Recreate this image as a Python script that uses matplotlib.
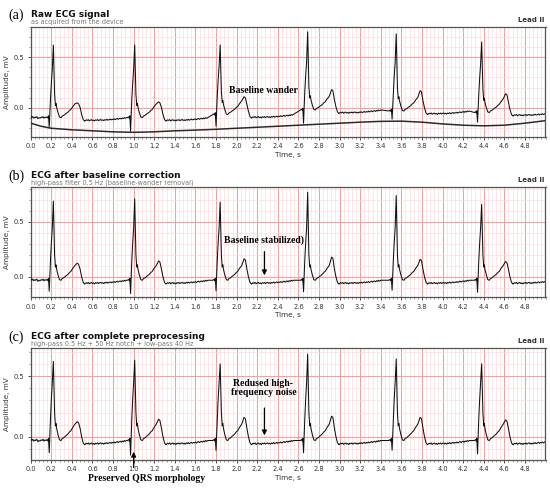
import numpy as np
import matplotlib.pyplot as plt
from matplotlib.ticker import MultipleLocator

#
# Beat timing (R peaks, s) - same for all three panels
r_times = [0.22, 1.01, 1.84, 2.69, 3.55, 4.38]
#
# Beat template: offsets from the R peak and values (mV)
# Q, R and T points get the per-beat values below
tmpl_dt = [-0.07, -0.06, -0.052, -0.047, -0.04, -0.028, -0.02, -0.01, 0.0, 0.012,
           0.02, 0.026, 0.032, 0.045, 0.06, 0.075, 0.085, 0.10, 0.12, 0.14,
           0.156, 0.17, 0.19, 0.21, 0.232, 0.245, 0.26, 0.275, 0.29, 0.305]
tmpl_v = [-0.03, -0.022, -0.035, -0.012, 0.0, 0.15, 0.30, 0.45, 0.0, 0.2,
          0.09, 0.11, 0.07, 0.02, -0.025, -0.03, -0.015, -0.008, 0.008, 0.022,
          0.04, 0.05, 0.08, 0.105, 0.0, 0.0, 0.07, 0.0, -0.05, -0.065]
IQ, IR, IT, IT2 = 4, 8, 24, 25
#
# Noisy baseline after the T wave (sampled every 10 ms from +0.31 s)
base_v = [-0.06, -0.052, -0.058, -0.05, -0.062, -0.055, -0.05, -0.06, -0.054, -0.063,
          -0.052, -0.057, -0.05, -0.06, -0.053, -0.049, -0.058, -0.052, -0.06, -0.05,
          -0.055, -0.047, -0.056, -0.05, -0.045, -0.053, -0.046, -0.05, -0.042, -0.05,
          -0.044, -0.038, -0.047, -0.04, -0.036, -0.044, -0.034, -0.04, -0.03, -0.037, -0.03]
base_dt = np.round(0.31 + 0.01 * np.arange(len(base_v)), 3)
#
# Lead-in before the first beat
lead_t = [0.0, 0.01, 0.02, 0.03, 0.04, 0.05, 0.06, 0.07, 0.08, 0.09, 0.10, 0.11, 0.12, 0.13, 0.14]
lead_v = [-0.01, -0.03, -0.02, -0.035, -0.025, -0.03, -0.02, -0.04, -0.03, -0.035,
          -0.025, -0.03, -0.02, -0.035, -0.025]
#
# Per-beat values, panel (a) raw
r_a = [0.62, 0.62, 0.62, 0.75, 0.73, 0.65]
t_a = [0.05, 0.06, 0.11, 0.18, 0.17, 0.14]
q_a = [-0.19, -0.23, -0.18, -0.15, -0.11, -0.14]
shift_a = [-0.065, -0.065, -0.035, 0.01, 0.0, -0.015]
#
# Panel (b) baseline corrected
r_b = [0.69, 0.71, 0.68, 0.77, 0.74, 0.66]
t_b = [0.125, 0.145, 0.165, 0.18, 0.16, 0.14]
q_b = [-0.13, -0.15, -0.125, -0.135, -0.12, -0.14]
shift_b = [0.0, 0.0, 0.0, 0.0, 0.0, 0.0]
#
# Panel (c) full preprocessing
r_c = [0.62, 0.63, 0.60, 0.68, 0.64, 0.60]
t_c = [0.125, 0.145, 0.16, 0.17, 0.16, 0.14]
q_c = [-0.13, -0.15, -0.11, -0.13, -0.11, -0.14]
shift_c = [0.0, 0.0, 0.0, 0.0, 0.0, 0.0]
#
# Baseline wander curve shown in panel (a)
wander_t = [0.0, 0.1, 0.2, 0.4, 0.6, 0.8, 1.0, 1.2, 1.4, 1.6, 1.8, 2.0, 2.2, 2.4, 2.6,
            2.8, 3.0, 3.2, 3.4, 3.6, 3.8, 4.0, 4.2, 4.4, 4.6, 4.8, 5.0]
wander_v = [-0.15, -0.18, -0.2, -0.215, -0.225, -0.235, -0.24, -0.235, -0.225, -0.218,
            -0.21, -0.2, -0.19, -0.18, -0.17, -0.16, -0.15, -0.14, -0.132, -0.13,
            -0.14, -0.157, -0.17, -0.176, -0.17, -0.15, -0.125]

xtick_vals = [0.0, 0.2, 0.4, 0.6, 0.8, 1.0, 1.2, 1.4, 1.6, 1.8, 2.0, 2.2, 2.4, 2.6,
              2.8, 3.0, 3.2, 3.4, 3.6, 3.8, 4.0, 4.2, 4.4, 4.6, 4.8]


def build(r, t, q, shift):
    xs = list(lead_t)
    ys = [v + shift[0] for v in lead_v]
    for i, rt in enumerate(r_times):
        v = [x + shift[i] for x in tmpl_v]
        v[IQ] = q[i]
        v[IR] = r[i]
        v[IT] = t[i]
        v[IT2] = t[i] - 0.01
        xs += [rt + d for d in tmpl_dt] + [rt + d for d in base_dt]
        ys += v + [b + shift[i] for b in base_v]
    return np.array(xs), np.array(ys)


W, H = 550, 488
fig = plt.figure(figsize=(5.5, 4.88), dpi=100)

panels = [
    dict(top=26.7, bot=136.7, ylim=(-0.283, 0.80), data=(r_a, t_a, q_a, shift_a),
         tag='(a)', title='Raw ECG signal', sub='as acquired from the device'),
    dict(top=187.3, bot=297.3, ylim=(-0.185, 0.815), data=(r_b, t_b, q_b, shift_b),
         tag='(b)', title='ECG after baseline correction',
         sub='high-pass filter 0.5 Hz (baseline-wander removal)'),
    dict(top=348.3, bot=459.5, ylim=(-0.186, 0.728), data=(r_c, t_c, q_c, shift_c),
         tag='(c)', title='ECG after complete preprocessing',
         sub='high-pass 0.5 Hz + 50 Hz notch + low-pass 40 Hz'),
]

axes = []
for p in panels:
    left, right = 30.7, 545.5
    ax = fig.add_axes([left / W, 1 - p['bot'] / H, (right - left) / W, (p['bot'] - p['top']) / H])
    axes.append(ax)
    x, y = build(*p['data'])
    ax.plot(x, y, color='#111111', lw=0.75, zorder=3)
    ax.set_xlim(0, 5.0)
    ax.set_ylim(*p['ylim'])
    ax.set_xticks(xtick_vals)
    ax.xaxis.set_minor_locator(MultipleLocator(0.04))
    ax.yaxis.set_major_locator(MultipleLocator(0.5))
    ax.yaxis.set_minor_locator(MultipleLocator(0.1))
    ax.grid(which='major', color='#f0a3a3', lw=0.8)
    ax.grid(which='minor', color='#fbdada', lw=0.45)
    ax.set_axisbelow(True)
    ax.tick_params(which='major', labelsize=4.8, length=2.5, width=0.6, colors='#333333', pad=2)
    ax.tick_params(which='minor', length=1.3, width=0.4, colors='#555555')
    for s in ax.spines.values():
        s.set_color('#555555')
        s.set_linewidth(0.9)
    ax.set_xlabel('Time, s', fontsize=5.2, color='#333333', labelpad=2)
    ax.set_ylabel('Amplitude, mV', fontsize=5.2, color='#333333', labelpad=3)
    ax.yaxis.set_label_coords(-0.04, 0.5)

    top = p['top']
    fig.text(8 / W, 1 - (top - 7.5) / H, p['tag'], fontsize=10, family='Liberation Serif', va='baseline')
    fig.text(31 / W, 1 - (top - 9.5) / H, p['title'], fontsize=6.5, weight='bold', va='baseline',
             color='#111111')
    fig.text(31 / W, 1 - (top - 2.5) / H, p['sub'], fontsize=4.7, va='baseline', color='#777777')
    fig.text(544 / W, 1 - (top - 5) / H, 'Lead II', fontsize=5, weight='bold', ha='right',
             va='baseline', color='#333333')

# baseline wander trend
axes[0].plot(wander_t, wander_v, color='#2a2a2a', lw=1.1, zorder=3)

ann = dict(family='Liberation Serif', weight='bold', fontsize=7, ha='center', va='center')
axes[0].text(2.26, 0.176, 'Baseline wander', **ann)
axes[1].text(2.27, 0.33, 'Baseline stabilized)', **ann)
axes[2].text(2.26, 0.40, 'Redused high-\nfrequency noise', linespacing=0.95, **ann)

arrow = dict(arrowstyle='-|>', color='black', lw=0.9, mutation_scale=7)
axes[1].annotate('', xy=(2.27, -0.01), xytext=(2.27, 0.255), arrowprops=arrow)
axes[2].annotate('', xy=(2.27, -0.01), xytext=(2.27, 0.26), arrowprops=arrow)
axes[2].annotate('', xy=(1.0, -0.10), xytext=(1.0, -0.275), arrowprops=arrow, annotation_clip=False)
axes[2].text(1.13, -0.34, 'Preserved QRS morphology', clip_on=False, **ann)

fig.savefig('out.png', dpi=100)
